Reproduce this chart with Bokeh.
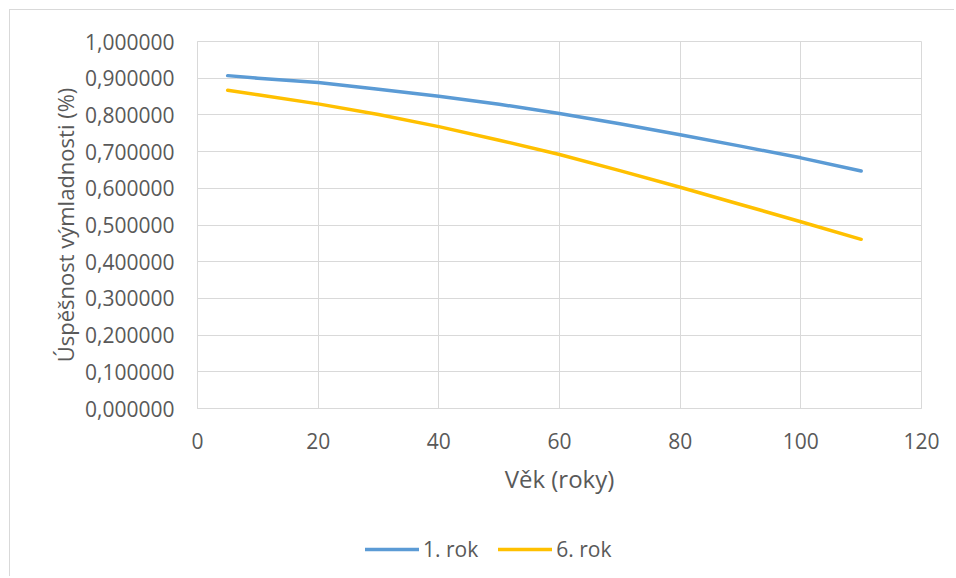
from bokeh.plotting import figure
from bokeh.layouts import column
from bokeh.models import Range1d, FixedTicker, Legend, LegendItem
from bokeh.embed import file_html
from bokeh.resources import INLINE

# data
age = [5, 10, 20, 30, 40, 50, 60, 70, 80, 90, 100, 110]
rok1 = [0.907, 0.900, 0.888, 0.870, 0.851, 0.829, 0.804, 0.776, 0.746, 0.715, 0.683, 0.647]
rok6 = [0.867, 0.855, 0.830, 0.801, 0.768, 0.731, 0.692, 0.648, 0.603, 0.556, 0.509, 0.461]
x_ticks = [0, 20, 40, 60, 80, 100, 120]
y_ticks = [0.0, 0.1, 0.2, 0.3, 0.4, 0.5, 0.6, 0.7, 0.8, 0.9, 1.0]
y_tick_labels = ["0,000000", "0,100000", "0,200000", "0,300000", "0,400000", "0,500000",
                 "0,600000", "0,700000", "0,800000", "0,900000", "1,000000"]
series_names = ["1. rok", "6. rok"]
series_colors = ["#5B9BD5", "#FFC000"]

FONT = "Open Sans"
TXT = "#595959"

p = figure(width=944, height=510, output_backend="svg", toolbar_location=None,
           x_range=Range1d(0, 120), y_range=Range1d(0, 1))
p.frame_width = 724
p.frame_height = 367
p.min_border_left = 187
p.min_border_top = 31
p.min_border_right = 33
p.min_border_bottom = 112

p.background_fill_color = "white"
p.border_fill_color = "white"
p.outline_line_color = "#d9d9d9"

for ax in (p.xaxis[0], p.yaxis[0]):
    ax.major_tick_in = 0
    ax.major_tick_out = 0
    ax.minor_tick_in = 0
    ax.minor_tick_out = 0
    ax.axis_line_color = "#d9d9d9"
    ax.major_label_text_font = FONT
    ax.major_label_text_font_size = "21px"
    ax.major_label_text_color = TXT
    ax.axis_label_text_font = FONT
    ax.axis_label_text_color = TXT
    ax.axis_label_text_font_style = "normal"

p.xaxis.axis_label_text_font_size = "24px"
p.yaxis.axis_label_text_font_size = "22px"
p.xaxis.ticker = FixedTicker(ticks=x_ticks)
p.yaxis.ticker = FixedTicker(ticks=y_ticks)
p.yaxis.major_label_overrides = {t: l for t, l in zip(y_ticks, y_tick_labels)}
p.xaxis.axis_label = "Věk (roky)"
p.yaxis.axis_label = "Úspěšnost výmladnosti (%)"
p.xaxis.major_label_standoff = 24
p.yaxis.major_label_standoff = 23
p.xaxis.axis_label_standoff = 10
p.yaxis.axis_label_standoff = 2

p.xgrid.grid_line_color = "#d9d9d9"
p.ygrid.grid_line_color = "#d9d9d9"

p.line(age, rok1, line_color=series_colors[0], line_width=3.5, line_cap="round", line_join="round")
p.line(age, rok6, line_color=series_colors[1], line_width=3.5, line_cap="round", line_join="round")

# legend strip below the chart (frame aligned with the chart's frame by the column)
lg = figure(width=944, height=56, output_backend="svg", toolbar_location=None,
            x_axis_type=None, y_axis_type=None,
            x_range=Range1d(0, 1), y_range=Range1d(0, 1))
lg.min_border_left = 0
lg.min_border_right = 0
lg.min_border_top = 0
lg.min_border_bottom = 0
lg.outline_line_color = None
lg.xgrid.visible = False
lg.ygrid.visible = False
lg.background_fill_color = "white"
lg.border_fill_color = "white"
# single-point (invisible, out-of-range) renderers just to carry the legend styles
l1 = lg.line(age[:1], rok1[:1], line_color=series_colors[0], line_width=3.5, line_cap="round")
l2 = lg.line(age[:1], rok6[:1], line_color=series_colors[1], line_width=3.5, line_cap="round")

legend = Legend(items=[LegendItem(label=series_names[0], renderers=[l1]),
                       LegendItem(label=series_names[1], renderers=[l2])],
                orientation="horizontal", location=(168, 13),
                label_text_font=FONT, label_text_font_size="21px", label_text_color=TXT,
                glyph_width=54, glyph_height=20, label_standoff=4, spacing=20,
                padding=0, margin=0, border_line_color=None, background_fill_alpha=0)
lg.add_layout(legend, "center")

layout = column(p, lg, spacing=0)
layout.styles = {"border-top": "1px solid #d9d9d9", "border-left": "1px solid #d9d9d9",
                 "margin-top": "9px", "margin-left": "9px"}

open("out.html", "w").write(file_html(layout, INLINE))
